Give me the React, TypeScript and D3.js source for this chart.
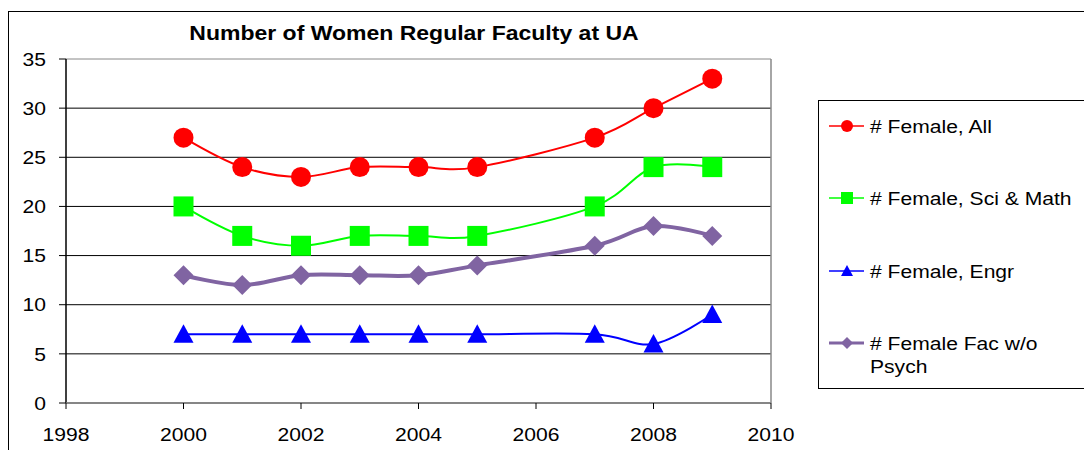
import React from "react";
import * as d3 from "d3";

const years = [2000, 2001, 2002, 2003, 2004, 2005, 2007, 2008, 2009];
const femaleAll = [27, 24, 23, 24, 24, 24, 27, 30, 33];
const femaleSciMath = [20, 17, 16, 17, 17, 17, 20, 24, 24];
const femaleEngr = [7, 7, 7, 7, 7, 7, 7, 6, 9];
const femaleNoPsych = [13, 12, 13, 13, 13, 14, 16, 18, 17];

const xTicks = [1998, 2000, 2002, 2004, 2006, 2008, 2010];
const yTicks = [0, 5, 10, 15, 20, 25, 30, 35];

const seriesNames = [
  "# Female, All",
  "# Female, Sci & Math",
  "# Female, Engr",
  "# Female Fac w/o Psych",
];

const font = "'Liberation Sans', Arial, sans-serif";
// the reference text is drawn a bit wider than plain Arial
const SX = 1.14;

type Series = {
  name: string;
  values: number[];
  color: string;
  width: number;
  marker: "circle" | "square" | "triangle" | "diamond";
};

const series: Series[] = [
  { name: seriesNames[0], values: femaleAll, color: "#FF0000", width: 2, marker: "circle" },
  { name: seriesNames[1], values: femaleSciMath, color: "#00FF00", width: 2, marker: "square" },
  { name: seriesNames[2], values: femaleEngr, color: "#0000FF", width: 2, marker: "triangle" },
  { name: seriesNames[3], values: femaleNoPsych, color: "#8064A2", width: 4, marker: "diamond" },
];

const Marker = ({ kind, x, y, color, size }: { kind: string; x: number; y: number; color: string; size: number }) => {
  const s = size;
  if (kind === "circle") return <circle cx={x} cy={y} r={s} fill={color} />;
  if (kind === "square") return <rect x={x - s} y={y - s} width={s * 2} height={s * 2} fill={color} />;
  if (kind === "triangle")
    return <path d={`M${x},${y - s}L${x + s},${y + s * 0.85}L${x - s},${y + s * 0.85}Z`} fill={color} />;
  return <path d={`M${x},${y - s}L${x + s},${y}L${x},${y + s}L${x - s},${y}Z`} fill={color} />;
};

const Label = ({
  x,
  y,
  anchor = "start",
  size = 18.5,
  sx = SX,
  bold = false,
  dy = "0.36em",
  children,
}: {
  x: number;
  y: number;
  anchor?: "start" | "middle" | "end";
  size?: number;
  sx?: number;
  bold?: boolean;
  dy?: string;
  children: React.ReactNode;
}) => (
  <g transform={`translate(${x},${y}) scale(${sx},1)`}>
    <text
      x={0}
      y={0}
      dy={dy}
      textAnchor={anchor}
      fontFamily={font}
      fontSize={size}
      fontWeight={bold ? "bold" : "normal"}
      fill="#000"
    >
      {children}
    </text>
  </g>
);

export default function App() {
  const W = 1084;
  const H = 450;
  const left = 66;
  const right = 771;
  const top = 59;
  const bottom = 403;

  const x = d3.scaleLinear().domain([1998, 2010]).range([left, right]);
  const y = d3.scaleLinear().domain([0, 35]).range([bottom, top]);

  const line = d3
    .line<number>()
    .x((_, i) => x(years[i]))
    .y((d) => y(d))
    .curve(d3.curveCatmullRom.alpha(0));

  const legendY = [126, 198, 271, 343];

  return (
    <svg width={W} height={H} style={{ position: "absolute", left: 0, top: 0, background: "white" }}>
      <rect x={0} y={0} width={W} height={H} fill="white" />
      {/* chart frame */}
      <rect x={8.5} y={11.5} width={1100} height={460} fill="none" stroke="#000" strokeWidth={1} />

      <Label x={414} y={40} anchor="middle" size={20} sx={1.15} bold dy="0">
        Number of Women Regular Faculty at UA
      </Label>

      {/* gridlines */}
      {yTicks.map((t) => (
        <line key={t} x1={left} x2={right} y1={y(t)} y2={y(t)} stroke={t === 35 ? "#888" : "#000"} strokeWidth={1} />
      ))}
      <line x1={right} x2={right} y1={top} y2={bottom} stroke="#888" strokeWidth={1.5} />

      {/* y axis */}
      <line x1={left} x2={left} y1={top} y2={bottom} stroke="#000" strokeWidth={1.5} />
      {yTicks.map((t) => (
        <g key={t}>
          <line x1={left - 7} x2={left} y1={y(t)} y2={y(t)} stroke="#000" />
          <Label x={46} y={y(t)} anchor="end">
            {t}
          </Label>
        </g>
      ))}

      {/* x axis */}
      <line x1={left} x2={right} y1={bottom} y2={bottom} stroke="#888" strokeWidth={1.5} />
      {xTicks.map((t) => (
        <g key={t}>
          <line x1={x(t)} x2={x(t)} y1={bottom} y2={bottom + 6} stroke="#000" />
          <Label x={x(t)} y={bottom + 38} anchor="middle" dy="0">
            {t}
          </Label>
        </g>
      ))}

      {/* series */}
      {series.map((s) => (
        <path key={s.name} d={line(s.values) || ""} fill="none" stroke={s.color} strokeWidth={s.width} />
      ))}
      {series.map((s) =>
        s.values.map((v, i) => (
          <Marker key={s.name + i} kind={s.marker} x={x(years[i])} y={y(v)} color={s.color} size={10} />
        ))
      )}

      {/* legend */}
      <rect x={818.5} y={100.5} width={270} height={288} fill="white" stroke="#000" strokeWidth={1} />
      {series.map((s, i) => (
        <g key={s.name}>
          <line x1={829} x2={864} y1={legendY[i]} y2={legendY[i]} stroke={s.color} strokeWidth={s.width === 4 ? 3 : 1.5} />
          <Marker kind={s.marker} x={847} y={legendY[i]} color={s.color} size={6} />
          {i < 3 ? (
            <Label x={870} y={legendY[i]}>
              {s.name}
            </Label>
          ) : (
            <>
              <Label x={870} y={legendY[i]}>
                {"# Female Fac w/o"}
              </Label>
              <Label x={870} y={legendY[i] + 23}>
                Psych
              </Label>
            </>
          )}
        </g>
      ))}
    </svg>
  );
}
